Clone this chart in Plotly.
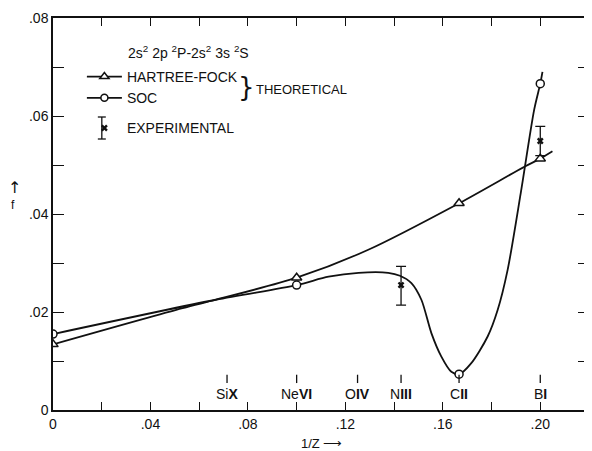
import plotly.graph_objects as go

# ---- data ----
ion_names = ["Si", "Ne", "O", "N", "C", "B"]
ion_stages = ["X", "VI", "IV", "III", "II", "I"]
ion_Z = [14, 10, 8, 7, 6, 5]

# computed points (markers)
marker_x = [0.0, 0.1, 1 / 6, 0.2]
hf_marker_y = [0.0134, 0.0270, 0.0422, 0.0513]
soc_marker_y = [0.0155, 0.0255, 0.0073, 0.0666]

# drawn curves
hf_curve_x = [0.0, 0.0532, 0.0668, 0.1, 0.1294, 0.1667, 0.1937, 0.2, 0.205]
hf_curve_y = [0.0134, 0.0208, 0.0225, 0.0270, 0.0327, 0.0422, 0.0497, 0.0513, 0.0528]

soc_curve_x = [0.0, 0.0668, 0.1, 0.1131, 0.1254, 0.1376, 0.1424, 0.1471, 0.1512, 0.1553,
               0.1594, 0.1635, 0.1667, 0.1716, 0.1784, 0.1825, 0.1866, 0.1920, 0.1975, 0.2, 0.2009]
soc_curve_y = [0.0155, 0.0225, 0.0255, 0.0272, 0.0280, 0.0280, 0.0274, 0.0259, 0.0225, 0.0157,
               0.0109, 0.0078, 0.0073, 0.0095, 0.0150, 0.0204, 0.0286, 0.0443, 0.0613, 0.0666, 0.0690]

exp_x = [1 / 7, 0.2]
exp_y = [0.0255, 0.0549]
exp_err_plus = [0.0038, 0.0030]
exp_err_minus = [0.0041, 0.0030]

x_tickvals = [0, 0.04, 0.08, 0.12, 0.16, 0.20]
x_ticktext = ["0", ".04", ".08", ".12", ".16", ".20"]
y_tickvals = [0, 0.02, 0.04, 0.06, 0.08]
y_ticktext = ["0", ".02", ".04", ".06", ".08"]

FONT = "Liberation Sans, Arial, sans-serif"
BLACK = "#111111"

fig = go.Figure()

# Hartree-Fock
fig.add_trace(go.Scatter(x=hf_curve_x, y=hf_curve_y, mode="lines",
                         line=dict(color=BLACK, width=1.8, shape="spline", smoothing=0.8),
                         showlegend=False, hoverinfo="skip"))
fig.add_trace(go.Scatter(x=marker_x, y=hf_marker_y, mode="markers",
                         marker=dict(symbol="triangle-up", size=9, color="white",
                                     line=dict(color=BLACK, width=1.5)),
                         showlegend=False))
fig.add_trace(go.Scatter(x=[None], y=[None], mode="lines+markers", name="HARTREE-FOCK",
                         line=dict(color=BLACK, width=1.8),
                         marker=dict(symbol="triangle-up", size=8, color="white",
                                     line=dict(color=BLACK, width=1.5)),
                         legendgroup="theo"))

# SOC
fig.add_trace(go.Scatter(x=soc_curve_x, y=soc_curve_y, mode="lines",
                         line=dict(color=BLACK, width=1.8, shape="spline", smoothing=0.8),
                         showlegend=False, hoverinfo="skip"))
fig.add_trace(go.Scatter(x=marker_x, y=soc_marker_y, mode="markers",
                         marker=dict(symbol="circle", size=8, color="white",
                                     line=dict(color=BLACK, width=1.5)),
                         showlegend=False))
fig.add_trace(go.Scatter(x=[None], y=[None], mode="lines+markers", name="SOC",
                         line=dict(color=BLACK, width=1.8),
                         marker=dict(symbol="circle", size=7, color="white",
                                     line=dict(color=BLACK, width=1.5)),
                         legendgroup="theo"))

# Experimental
fig.add_trace(go.Scatter(x=exp_x, y=exp_y, mode="markers", name="EXPERIMENTAL",
                         marker=dict(symbol="x", size=6, color=BLACK),
                         error_y=dict(type="data", symmetric=False, array=exp_err_plus,
                                      arrayminus=exp_err_minus, color=BLACK,
                                      thickness=1.3, width=5),
                         legendgroup="exp"))

# ion labels and their small ticks
ion_x = [1 / z for z in ion_Z]
for xv, name, stage in zip(ion_x, ion_names, ion_stages):
    fig.add_shape(type="line", xref="x", yref="y", x0=xv, x1=xv, y0=0.0055, y1=0.0072,
                  line=dict(color=BLACK, width=1.3))
    fig.add_annotation(x=xv, y=0.0032, xref="x", yref="y", text=name + "<b>" + stage + "</b>",
                       showarrow=False, xanchor="center", yanchor="middle",
                       font=dict(family=FONT, size=14, color=BLACK))

# helpers: pixel in the 592x451 picture -> paper coords of the plot area
def px_x(p):
    return (p - 53) / 538

def px_y(p):
    return 1 - (p - 18) / 392

fig.add_annotation(x=px_x(189), y=px_y(52), xref="paper", yref="paper", xanchor="center",
                   yanchor="middle",
                   text="2s<sup>2</sup> 2p <sup>2</sup>P-2s<sup>2</sup> 3s <sup>2</sup>S",
                   showarrow=False, font=dict(family=FONT, size=14, color=BLACK))
fig.add_annotation(x=px_x(247), y=px_y(87), xref="paper", yref="paper", xanchor="center",
                   yanchor="middle", text="}", showarrow=False,
                   font=dict(family="DejaVu Sans, sans-serif", size=26, color=BLACK))
fig.add_annotation(x=px_x(302), y=px_y(89), xref="paper", yref="paper", xanchor="center",
                   yanchor="middle", text="THEORETICAL", showarrow=False,
                   font=dict(family=FONT, size=13, color=BLACK))

# error-bar glyph for the EXPERIMENTAL legend entry
fig.add_shape(type="line", xref="paper", yref="paper", x0=px_x(102), x1=px_x(102),
              y0=px_y(117), y1=px_y(139), line=dict(color=BLACK, width=1.3))
fig.add_shape(type="line", xref="paper", yref="paper", x0=px_x(98), x1=px_x(106),
              y0=px_y(117), y1=px_y(117), line=dict(color=BLACK, width=1.3))
fig.add_shape(type="line", xref="paper", yref="paper", x0=px_x(98), x1=px_x(106),
              y0=px_y(139), y1=px_y(139), line=dict(color=BLACK, width=1.3))

# axis titles
fig.add_annotation(x=px_x(14), y=px_y(187), xref="paper", yref="paper", text="↑",
                   xanchor="center", yanchor="middle", showarrow=False,
                   font=dict(family="DejaVu Sans, sans-serif", size=16, color=BLACK))
fig.add_annotation(x=px_x(13), y=px_y(205), xref="paper", yref="paper", text="f",
                   xanchor="center", yanchor="middle", showarrow=False,
                   font=dict(family=FONT, size=12, color=BLACK))
fig.add_annotation(x=px_x(322), y=px_y(443), xref="paper", yref="paper", text="1/Z ⟶",
                   xanchor="center", yanchor="middle", showarrow=False,
                   font=dict(family=FONT, size=13, color=BLACK))

# the page adds an 8px body margin, so the figure is drawn 8px smaller and offset
fig.update_layout(
    width=584, height=443,
    margin=dict(l=45, r=1, t=10, b=41),
    paper_bgcolor="white", plot_bgcolor="white",
    font=dict(family=FONT, size=14, color=BLACK),
    showlegend=True,
    legend=dict(x=px_x(82), y=px_y(61), xanchor="left", yanchor="top",
                bgcolor="rgba(0,0,0,0)", borderwidth=0,
                font=dict(family=FONT, size=14, color=BLACK),
                tracegroupgap=9, itemwidth=35, traceorder="grouped"),
    xaxis=dict(range=[0, 0.22], tickvals=x_tickvals, ticktext=x_ticktext,
               ticks="inside", ticklen=8, tickwidth=1.3, tickcolor=BLACK,
               minor=dict(ticks="inside", tick0=0, dtick=0.02, ticklen=8, tickwidth=1.3,
                          tickcolor=BLACK, showgrid=False),
               showline=True, linecolor=BLACK, linewidth=1.5, mirror="ticks",
               showgrid=False, zeroline=False, tickfont=dict(size=14)),
    yaxis=dict(range=[0, 0.08], tickvals=y_tickvals, ticktext=y_ticktext,
               ticks="inside", ticklen=11, tickwidth=1.3, tickcolor=BLACK,
               minor=dict(ticks="inside", tick0=0, dtick=0.01, ticklen=11, tickwidth=1.3,
                          tickcolor=BLACK, showgrid=False),
               showline=True, linecolor=BLACK, linewidth=1.5, mirror="ticks",
               showgrid=False, zeroline=False, tickfont=dict(size=14)),
)

fig.write_html("out.html", config={"displayModeBar": False})
